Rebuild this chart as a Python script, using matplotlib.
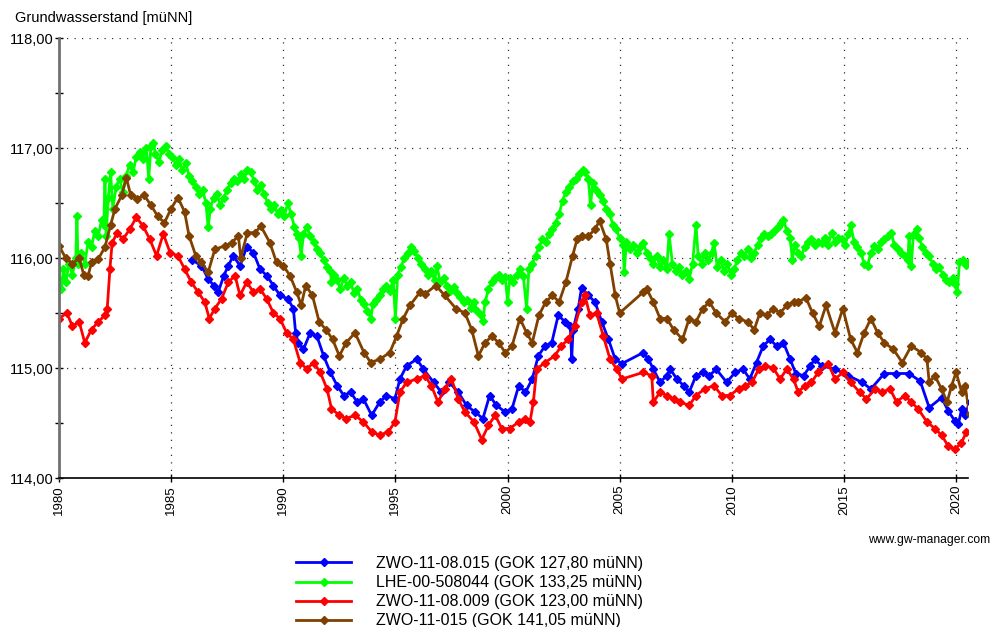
import matplotlib
matplotlib.use("Agg")
import matplotlib.pyplot as plt
from matplotlib.ticker import MultipleLocator, FuncFormatter

plt.rcParams['font.family'] = ['Liberation Sans', 'DejaVu Sans']

# Messstellen: (Jahr, Grundwasserstand in müNN)
zwo_08_015 = [
    (1985.95, 115.98), (1986.35, 115.93), (1986.65, 115.81), (1986.9, 115.75), (1987.1, 115.69),
    (1987.35, 115.84), (1987.55, 115.93), (1987.77, 116.02), (1988.07, 115.93), (1988.37, 116.10),
    (1988.67, 116.05), (1988.96, 115.90), (1989.26, 115.84), (1989.56, 115.75), (1989.85, 115.66),
    (1990.2, 115.63), (1990.45, 115.54), (1990.55, 115.32), (1990.67, 115.23), (1990.9, 115.17),
    (1991.2, 115.32), (1991.5, 115.29), (1991.8, 115.11), (1992.1, 114.96), (1992.4, 114.84),
    (1992.7, 114.75), (1993.0, 114.78), (1993.3, 114.69), (1993.57, 114.72), (1993.94, 114.57),
    (1994.3, 114.69), (1994.6, 114.75), (1994.98, 114.72), (1995.2, 114.90), (1995.5, 115.02),
    (1995.95, 115.08), (1996.25, 114.99), (1996.7, 114.87), (1997.05, 114.78), (1997.4, 114.87),
    (1997.8, 114.78), (1998.17, 114.66), (1998.55, 114.60), (1998.9, 114.54), (1999.2, 114.75),
    (1999.5, 114.66), (1999.9, 114.60), (2000.2, 114.63), (2000.5, 114.84), (2000.8, 114.78),
    (2001.1, 114.90), (2001.37, 115.11), (2001.67, 115.20), (2001.97, 115.23), (2002.26, 115.48),
    (2002.56, 115.42), (2002.8, 115.38), (2002.86, 115.08), (2002.92, 115.35), (2003.15, 115.54),
    (2003.3, 115.73), (2003.6, 115.66), (2003.9, 115.60), (2004.2, 115.42), (2004.5, 115.26),
    (2004.8, 115.08), (2005.1, 115.04), (2006.05, 115.14), (2006.28, 115.08), (2006.5, 114.99),
    (2006.8, 114.87), (2007.1, 114.93), (2007.25, 114.99), (2007.55, 114.90), (2007.85, 114.84),
    (2008.1, 114.78), (2008.4, 114.93), (2008.7, 114.96), (2009.0, 114.93), (2009.3, 114.99),
    (2009.77, 114.87), (2010.15, 114.96), (2010.5, 114.99), (2010.8, 114.90), (2011.1, 115.05),
    (2011.4, 115.20), (2011.7, 115.26), (2012.0, 115.20), (2012.3, 115.23), (2012.6, 115.08),
    (2012.85, 114.95), (2013.2, 114.93), (2013.5, 115.02), (2013.7, 115.08), (2014.0, 115.02),
    (2014.6, 114.99), (2015.2, 114.93), (2015.8, 114.87), (2016.2, 114.81), (2016.8, 114.95),
    (2017.3, 114.95), (2017.9, 114.95), (2018.4, 114.88), (2018.8, 114.64), (2019.35, 114.73),
    (2019.65, 114.61), (2019.94, 114.52), (2020.1, 114.49), (2020.25, 114.63), (2020.4, 114.57),
    (2020.6, 114.69),
]

lhe_508044 = [
    (1980.0, 115.80), (1980.1, 115.72), (1980.2, 115.90), (1980.3, 115.78), (1980.45, 115.95),
    (1980.6, 115.85), (1980.75, 116.00), (1980.8, 116.38), (1980.85, 115.95), (1981.0, 116.05),
    (1981.15, 115.95), (1981.3, 116.15), (1981.45, 116.10), (1981.6, 116.25), (1981.75, 116.20),
    (1981.9, 116.35), (1982.0, 116.30), (1982.05, 116.72), (1982.1, 116.20), (1982.2, 116.55),
    (1982.3, 116.78), (1982.4, 116.45), (1982.55, 116.65), (1982.7, 116.72), (1982.85, 116.60),
    (1983.0, 116.75), (1983.15, 116.85), (1983.3, 116.78), (1983.45, 116.92), (1983.6, 116.96),
    (1983.75, 116.90), (1983.9, 117.00), (1984.0, 116.72), (1984.1, 117.02), (1984.2, 117.05),
    (1984.3, 116.95), (1984.45, 116.87), (1984.6, 116.98), (1984.75, 117.02), (1984.9, 116.95),
    (1985.05, 116.92), (1985.2, 116.85), (1985.35, 116.90), (1985.5, 116.80), (1985.65, 116.86),
    (1985.8, 116.75), (1985.95, 116.70), (1986.1, 116.65), (1986.25, 116.58), (1986.4, 116.62),
    (1986.55, 116.50), (1986.65, 116.28), (1986.75, 116.45), (1986.9, 116.55), (1987.05, 116.58),
    (1987.2, 116.48), (1987.35, 116.55), (1987.5, 116.62), (1987.65, 116.68), (1987.8, 116.72),
    (1987.95, 116.70), (1988.1, 116.76), (1988.25, 116.72), (1988.4, 116.80), (1988.55, 116.78),
    (1988.7, 116.70), (1988.85, 116.62), (1989.0, 116.66), (1989.15, 116.58), (1989.3, 116.50),
    (1989.45, 116.45), (1989.6, 116.48), (1989.75, 116.40), (1989.9, 116.44), (1990.05, 116.38),
    (1990.2, 116.50), (1990.35, 116.40), (1990.5, 116.28), (1990.6, 116.22), (1990.7, 116.18),
    (1990.8, 116.02), (1990.9, 116.22), (1991.05, 116.28), (1991.2, 116.20), (1991.35, 116.15),
    (1991.5, 116.08), (1991.65, 116.05), (1991.8, 115.98), (1991.95, 115.92), (1992.1, 115.88),
    (1992.15, 115.78), (1992.25, 115.85), (1992.4, 115.80), (1992.55, 115.72), (1992.7, 115.82),
    (1992.85, 115.75), (1993.0, 115.78), (1993.15, 115.68), (1993.3, 115.72), (1993.45, 115.62),
    (1993.6, 115.58), (1993.75, 115.52), (1993.9, 115.45), (1994.0, 115.58), (1994.15, 115.62),
    (1994.3, 115.66), (1994.45, 115.72), (1994.6, 115.75), (1994.75, 115.70), (1994.9, 115.80),
    (1995.0, 115.45), (1995.1, 115.85), (1995.25, 115.92), (1995.4, 116.00), (1995.55, 116.05),
    (1995.7, 116.10), (1995.85, 116.06), (1996.0, 116.00), (1996.15, 115.95), (1996.3, 115.90),
    (1996.45, 115.85), (1996.6, 115.88), (1996.75, 115.80), (1996.85, 115.93), (1997.0, 115.78),
    (1997.15, 115.82), (1997.3, 115.75), (1997.45, 115.70), (1997.6, 115.74), (1997.75, 115.68),
    (1997.9, 115.65), (1998.05, 115.60), (1998.2, 115.62), (1998.35, 115.55), (1998.5, 115.60),
    (1998.65, 115.52), (1998.8, 115.48), (1998.9, 115.43), (1999.0, 115.60), (1999.15, 115.72),
    (1999.3, 115.78), (1999.45, 115.82), (1999.6, 115.85), (1999.75, 115.80), (1999.9, 115.83),
    (2000.0, 115.60), (2000.1, 115.82), (2000.25, 115.78), (2000.4, 115.85), (2000.55, 115.90),
    (2000.7, 115.84), (2000.85, 115.54), (2000.95, 115.90), (2001.1, 115.95), (2001.25, 116.02),
    (2001.4, 116.10), (2001.55, 116.17), (2001.7, 116.15), (2001.85, 116.22), (2002.0, 116.26),
    (2002.15, 116.32), (2002.3, 116.40), (2002.45, 116.52), (2002.6, 116.60), (2002.75, 116.65),
    (2002.9, 116.70), (2003.05, 116.72), (2003.2, 116.76), (2003.35, 116.80), (2003.45, 116.78),
    (2003.6, 116.72), (2003.7, 116.48), (2003.8, 116.68), (2003.95, 116.62), (2004.1, 116.57),
    (2004.25, 116.52), (2004.4, 116.45), (2004.55, 116.40), (2004.7, 116.30), (2004.85, 116.26),
    (2005.0, 116.18), (2005.15, 116.12), (2005.2, 115.87), (2005.3, 116.15), (2005.45, 116.08),
    (2005.6, 116.12), (2005.75, 116.05), (2005.9, 116.10), (2006.05, 116.14), (2006.2, 116.05),
    (2006.35, 116.00), (2006.5, 115.95), (2006.65, 116.02), (2006.8, 115.92), (2006.95, 115.98),
    (2007.1, 115.90), (2007.2, 116.22), (2007.35, 115.95), (2007.5, 115.88), (2007.65, 115.92),
    (2007.8, 115.85), (2007.95, 115.88), (2008.1, 115.81), (2008.25, 115.95), (2008.4, 116.30),
    (2008.5, 116.02), (2008.65, 115.95), (2008.8, 116.05), (2008.95, 115.98), (2009.1, 116.05),
    (2009.2, 116.14), (2009.35, 115.92), (2009.5, 115.98), (2009.65, 115.88), (2009.8, 115.95),
    (2009.95, 115.85), (2010.1, 115.90), (2010.25, 115.98), (2010.4, 116.05), (2010.55, 116.02),
    (2010.7, 116.08), (2010.85, 116.00), (2011.0, 116.05), (2011.15, 116.12), (2011.3, 116.18),
    (2011.45, 116.22), (2011.6, 116.20), (2011.75, 116.22), (2011.9, 116.25), (2012.05, 116.28),
    (2012.2, 116.32), (2012.3, 116.35), (2012.45, 116.25), (2012.6, 116.18), (2012.7, 115.98),
    (2012.8, 116.12), (2012.95, 116.05), (2013.1, 116.02), (2013.25, 116.10), (2013.4, 116.15),
    (2013.55, 116.17), (2013.7, 116.12), (2013.85, 116.15), (2014.0, 116.14), (2014.15, 116.18),
    (2014.3, 116.12), (2014.45, 116.23), (2014.6, 116.15), (2014.75, 116.18), (2014.9, 116.17),
    (2015.05, 116.12), (2015.2, 116.22), (2015.3, 116.30), (2015.45, 116.15), (2015.6, 116.10),
    (2015.75, 116.05), (2015.9, 115.95), (2016.05, 115.93), (2016.2, 116.05), (2016.35, 116.11),
    (2016.5, 116.08), (2016.65, 116.15), (2016.8, 116.17), (2016.95, 116.20), (2017.1, 116.23),
    (2017.25, 116.12), (2017.4, 116.08), (2017.55, 116.05), (2017.7, 116.02), (2017.85, 115.98),
    (2017.9, 116.20), (2018.0, 115.93), (2018.1, 116.22), (2018.25, 116.26), (2018.35, 116.18),
    (2018.5, 116.10), (2018.65, 116.05), (2018.8, 116.02), (2018.95, 115.95), (2019.1, 115.90),
    (2019.25, 115.92), (2019.4, 115.85), (2019.55, 115.80), (2019.7, 115.78), (2019.85, 115.82),
    (2019.95, 115.76), (2020.05, 115.69), (2020.15, 115.96), (2020.3, 115.98), (2020.45, 115.94),
    (2020.6, 115.97),
]

zwo_08_009 = [
    (1980.0, 115.45), (1980.35, 115.50), (1980.6, 115.38), (1980.9, 115.42), (1981.15, 115.23),
    (1981.45, 115.35), (1981.75, 115.42), (1982.05, 115.48), (1982.15, 115.54), (1982.27, 115.90),
    (1982.37, 116.14), (1982.6, 116.23), (1982.85, 116.17), (1983.15, 116.26), (1983.45, 116.37),
    (1983.75, 116.29), (1984.05, 116.17), (1984.35, 116.02), (1984.65, 116.22), (1984.95, 116.05),
    (1985.3, 116.02), (1985.6, 115.90), (1985.9, 115.78), (1986.2, 115.69), (1986.5, 115.60),
    (1986.7, 115.45), (1986.95, 115.54), (1987.25, 115.63), (1987.55, 115.78), (1987.85, 115.84),
    (1988.07, 115.66), (1988.37, 115.78), (1988.67, 115.69), (1988.96, 115.72), (1989.26, 115.63),
    (1989.56, 115.50), (1989.85, 115.45), (1990.15, 115.32), (1990.45, 115.26), (1990.75, 115.05),
    (1991.05, 114.99), (1991.35, 115.05), (1991.65, 114.96), (1991.95, 114.81), (1992.15, 114.63),
    (1992.5, 114.57), (1992.8, 114.54), (1993.2, 114.57), (1993.57, 114.51), (1993.94, 114.42),
    (1994.3, 114.39), (1994.68, 114.42), (1994.98, 114.51), (1995.2, 114.78), (1995.5, 114.87),
    (1995.95, 114.90), (1996.32, 114.93), (1996.6, 114.84), (1996.9, 114.69), (1997.2, 114.81),
    (1997.5, 114.90), (1997.8, 114.72), (1998.1, 114.60), (1998.5, 114.51), (1998.85, 114.35),
    (1999.15, 114.48), (1999.45, 114.57), (1999.74, 114.45), (2000.1, 114.45), (2000.5, 114.51),
    (2000.8, 114.54), (2001.0, 114.51), (2001.15, 114.69), (2001.3, 114.99), (2001.67, 115.05),
    (2002.1, 115.11), (2002.4, 115.20), (2002.7, 115.26), (2003.0, 115.38), (2003.3, 115.60),
    (2003.45, 115.66), (2003.67, 115.48), (2003.97, 115.50), (2004.27, 115.29), (2004.57, 115.08),
    (2004.87, 114.99), (2005.1, 114.90), (2006.05, 114.96), (2006.43, 114.93), (2006.5, 114.69),
    (2006.8, 114.78), (2007.1, 114.75), (2007.4, 114.72), (2007.7, 114.69), (2008.1, 114.66),
    (2008.4, 114.75), (2008.8, 114.81), (2009.2, 114.84), (2009.55, 114.75), (2009.9, 114.75),
    (2010.3, 114.81), (2010.6, 114.84), (2010.9, 114.87), (2011.2, 114.99), (2011.5, 115.02),
    (2011.85, 115.00), (2012.15, 114.90), (2012.45, 114.99), (2012.75, 114.90), (2012.96, 114.78),
    (2013.25, 114.84), (2013.55, 114.87), (2013.85, 114.96), (2014.3, 115.04), (2014.6, 114.90),
    (2014.96, 114.96), (2015.3, 114.87), (2015.7, 114.78), (2016.0, 114.72), (2016.4, 114.81),
    (2016.7, 114.78), (2017.05, 114.81), (2017.35, 114.69), (2017.7, 114.75), (2018.0, 114.69),
    (2018.3, 114.63), (2018.7, 114.51), (2019.05, 114.45), (2019.35, 114.39), (2019.65, 114.29),
    (2019.94, 114.26), (2020.24, 114.32), (2020.46, 114.42), (2020.7, 114.35),
]

zwo_015 = [
    (1980.0, 116.11), (1980.3, 116.00), (1980.6, 115.95), (1980.9, 116.00), (1981.1, 115.85),
    (1981.3, 115.84), (1981.45, 115.96), (1981.75, 115.99), (1982.05, 116.10), (1982.3, 116.30),
    (1982.5, 116.45), (1982.8, 116.57), (1983.0, 116.73), (1983.2, 116.57), (1983.5, 116.54),
    (1983.8, 116.57), (1984.1, 116.48), (1984.4, 116.38), (1984.7, 116.32), (1985.0, 116.45),
    (1985.3, 116.55), (1985.6, 116.42), (1985.8, 116.20), (1986.1, 116.02), (1986.35, 115.96),
    (1986.65, 115.87), (1986.95, 116.08), (1987.4, 116.11), (1987.7, 116.14), (1988.0, 116.20),
    (1988.1, 116.00), (1988.4, 116.23), (1988.74, 116.23), (1989.0, 116.29), (1989.4, 116.14),
    (1989.7, 115.96), (1990.0, 115.93), (1990.3, 115.84), (1990.6, 115.69), (1990.8, 115.57),
    (1991.0, 115.75), (1991.3, 115.66), (1991.6, 115.42), (1991.9, 115.35), (1992.2, 115.26),
    (1992.5, 115.11), (1992.8, 115.23), (1993.2, 115.32), (1993.6, 115.14), (1993.9, 115.05),
    (1994.3, 115.08), (1994.75, 115.14), (1995.05, 115.29), (1995.35, 115.45), (1995.65, 115.57),
    (1996.1, 115.69), (1996.3, 115.67), (1996.8, 115.75), (1997.2, 115.66), (1997.7, 115.54),
    (1998.1, 115.50), (1998.4, 115.35), (1998.7, 115.11), (1999.0, 115.23), (1999.3, 115.29),
    (1999.6, 115.23), (1999.9, 115.14), (2000.2, 115.20), (2000.55, 115.45), (2000.85, 115.32),
    (2001.1, 115.23), (2001.4, 115.48), (2001.7, 115.60), (2002.0, 115.66), (2002.3, 115.60),
    (2002.6, 115.78), (2002.9, 116.02), (2003.1, 116.17), (2003.3, 116.20), (2003.6, 116.20),
    (2003.9, 116.26), (2004.1, 116.34), (2004.4, 116.17), (2004.57, 115.95), (2004.8, 115.66),
    (2005.0, 115.50), (2006.05, 115.69), (2006.2, 115.72), (2006.5, 115.60), (2006.8, 115.45),
    (2007.1, 115.45), (2007.4, 115.35), (2007.8, 115.26), (2008.1, 115.45), (2008.4, 115.42),
    (2008.7, 115.54), (2009.0, 115.60), (2009.3, 115.50), (2009.7, 115.42), (2010.0, 115.50),
    (2010.3, 115.45), (2010.7, 115.42), (2011.0, 115.35), (2011.25, 115.50), (2011.55, 115.48),
    (2011.85, 115.54), (2012.15, 115.50), (2012.45, 115.57), (2012.75, 115.60), (2012.95, 115.60),
    (2013.3, 115.64), (2013.6, 115.50), (2013.9, 115.38), (2014.2, 115.57), (2014.6, 115.32),
    (2014.95, 115.54), (2015.3, 115.26), (2015.6, 115.14), (2015.9, 115.32), (2016.2, 115.45),
    (2016.5, 115.32), (2016.8, 115.23), (2017.2, 115.17), (2017.6, 115.05), (2018.0, 115.20),
    (2018.45, 115.14), (2018.7, 115.08), (2018.8, 114.87), (2019.05, 114.93), (2019.35, 114.81),
    (2019.6, 114.69), (2019.8, 114.84), (2020.0, 114.96), (2020.25, 114.78), (2020.4, 114.84),
    (2020.6, 114.58),
]

labels = [
    'ZWO-11-08.015 (GOK 127,80 müNN)',
    'LHE-00-508044 (GOK 133,25 müNN)',
    'ZWO-11-08.009 (GOK 123,00 müNN)',
    'ZWO-11-015 (GOK 141,05 müNN)',
]
farben = ['#0000ff', '#00ff00', '#ff0000', '#804000']
reihen = [zwo_08_015, lhe_508044, zwo_08_009, zwo_015]

fig = plt.figure(figsize=(9.92, 6.27), dpi=100)
ax = fig.add_axes([59/992, 1 - 478/627, (968 - 59)/992, (478 - 38)/627])

linien = []
for reihe, farbe, label in zip(reihen, farben, labels):
    jahre = [p[0] for p in reihe]
    stand = [p[1] for p in reihe]
    l, = ax.plot(jahre, stand, color=farbe, lw=2.0, marker='D', ms=4.4,
                 mec=farbe, mfc=farbe, label=label)
    linien.append(l)

ax.set_xlim(1980, 2020.53)
ax.set_ylim(114, 118)

ax.xaxis.set_major_locator(MultipleLocator(5))
ax.yaxis.set_major_locator(MultipleLocator(1))
ax.yaxis.set_minor_locator(MultipleLocator(0.5))
ax.yaxis.set_major_formatter(FuncFormatter(lambda v, p: f'{v:.2f}'.replace('.', ',')))
ax.xaxis.set_major_formatter(FuncFormatter(lambda v, p: f'{int(round(v))}'))

ax.tick_params(axis='x', direction='inout', length=6, width=1, labelsize=9.5,
               labelrotation=90, pad=2)
ax.tick_params(axis='y', which='both', direction='inout', length=6, width=1,
               labelsize=10.5, pad=1)

ax.grid(True, which='major', linestyle=(0, (1, 5)), color='#303030', linewidth=0.9)
ax.set_axisbelow(True)

for s in ['top', 'right']:
    ax.spines[s].set_visible(False)
ax.spines['left'].set_color('#707070')
ax.spines['left'].set_linewidth(2)
ax.spines['bottom'].set_color('black')
ax.spines['bottom'].set_linewidth(1.2)

fig.text(15/992, 1 - 18/627, 'Grundwasserstand [müNN]', fontsize=10.5, va='center', ha='left')
fig.text(990/992, 1 - 540/627, 'www.gw-manager.com', fontsize=8.7, va='center', ha='right')

# Legende unter dem Diagramm, letzte Zeile läuft unten aus dem Bild
fig.legend(handles=linien, labels=labels, loc='upper left',
           bbox_to_anchor=(296/992, 1 - 556/627), frameon=False, fontsize=11.5,
           handlelength=3.45, handletextpad=1.55, labelspacing=0.26, borderpad=0,
           borderaxespad=0, numpoints=1)

fig.savefig('out.png', dpi=100)
